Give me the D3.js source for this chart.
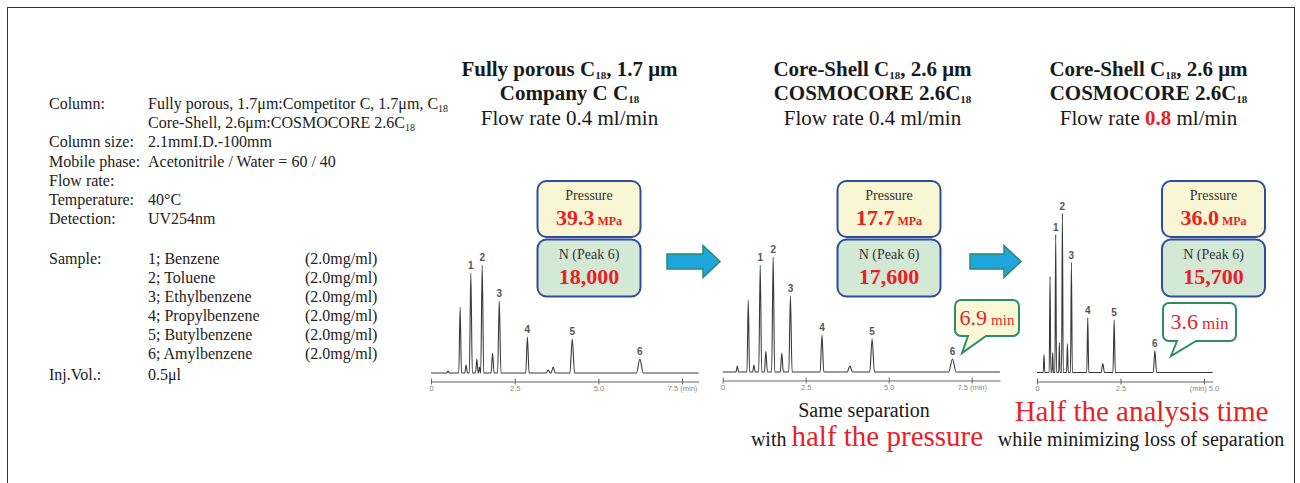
<!DOCTYPE html>
<html><head><meta charset="utf-8">
<script src="https://cdn.jsdelivr.net/npm/d3@7"></script>
<style>
html,body{margin:0;padding:0;background:#fff;}
svg{display:block;font-family:"Liberation Serif","Times New Roman",serif;}
</style></head>
<body><svg id="c" width="1300" height="483" font-family="Liberation Serif, Times New Roman, serif"></svg>
<script>
// ---------------- DATA ----------------
const condLabels = ["Column:", "", "Column size:", "Mobile phase:", "Flow rate:", "Temperature:", "Detection:"];
const condValues = ["Fully porous, 1.7μm:Competitor C, 1.7μm, C{18}", "Core-Shell, 2.6μm:COSMOCORE 2.6C{18}",
  "2.1mmI.D.-100mm", "Acetonitrile / Water = 60 / 40", "", "40°C", "UV254nm"];
const sampleNames = ["1; Benzene", "2; Toluene", "3; Ethylbenzene", "4; Propylbenzene", "5; Butylbenzene", "6; Amylbenzene"];
const sampleConc = ["(2.0mg/ml)", "(2.0mg/ml)", "(2.0mg/ml)", "(2.0mg/ml)", "(2.0mg/ml)", "(2.0mg/ml)"];
const injLabel = "Inj.Vol.:", injValue = "0.5μl";

const titleLine1 = ["Fully porous C{18}, 1.7 μm", "Core-Shell C{18}, 2.6 μm", "Core-Shell C{18}, 2.6 μm"];
const titleLine2 = ["Company C C{18}", "COSMOCORE 2.6C{18}", "COSMOCORE 2.6C{18}"];
const flowRates = ["0.4", "0.4", "0.8"];
const flowHighlight = [false, false, true];
const pressures = ["39.3", "17.7", "36.0"];
const plates = ["18,000", "17,600", "15,700"];
const callouts = [null, "6.9", "3.6"];

// chromatograms: peaks as [retention time (min), relative height, half width (min), peak number]
const peaksA = [[0.51,2,0.04,0],[0.87,66,0.04,0],[1.05,8,0.04,0],[1.19,100,0.045,1],[1.37,14,0.04,0],[1.45,6,0.03,0],
  [1.53,108,0.045,2],[1.84,20,0.045,0],[2.04,72,0.05,3],[2.88,36,0.05,4],[3.50,3,0.06,0],[3.65,6,0.06,0],
  [4.22,34,0.07,5],[6.24,14,0.1,6]];
const peaksB = [[0.44,6,0.04,0],[0.77,72,0.04,0],[0.94,7,0.04,0],[1.13,107,0.045,1],[1.30,21,0.045,0],
  [1.52,115,0.045,2],[1.78,19,0.045,0],[2.04,76,0.05,3],[2.99,37,0.055,4],[3.83,6,0.08,0],
  [4.50,33,0.07,5],[6.92,13,0.11,6]];
const peaksC = [[0.21,18,0.025,0],[0.39,96,0.025,0],[0.47,20,0.02,0],[0.56,138,0.025,1],[0.67,30,0.02,0],
  [0.76,159,0.025,2],[0.91,29,0.025,0],[1.03,110,0.028,3],[1.52,55,0.03,4],[1.97,9,0.05,0],
  [2.31,53,0.035,5],[3.53,22,0.05,6]];
const peakSets = [peaksA, peaksB, peaksC];
const runEnd = [8.0, 8.35, 5.26];
const tickVals = [[0, 2.5, 5.0, 7.5], [0, 2.5, 5.0, 7.5], [0, 2.5, 5.0]];
const tickText = [["0", "2.5", "5.0", "7.5 (min)"], ["0", "2.5", "5.0", "7.5 (min)"], ["0", "2.5", "(min) 5.0"]];

// ---------------- LAYOUT ----------------
const RED = "#e81f27";
const svg = d3.select("#c");
svg.append("rect").attr("x", 7.5).attr("y", 7.5).attr("width", 1287).attr("height", 490)
  .attr("fill", "none").attr("stroke", "#333").attr("stroke-width", 1);

function rich(text, str, subSize, shift) {
  const parts = str.split(/(\{[^}]*\}|\[[^\]]*\])/).filter(s => s.length);
  let down = false;
  parts.forEach(p => {
    let t;
    if (p[0] === "{") {
      text.append("tspan").attr("font-size", subSize).attr("dy", shift).text(p.slice(1, -1));
      down = true; return;
    }
    if (p[0] === "[") {
      t = text.append("tspan").attr("fill", RED).attr("font-weight", "bold").text(p.slice(1, -1));
    } else t = text.append("tspan").text(p);
    if (down) { t.attr("dy", -shift); down = false; }
  });
}

// left conditions block
const left = svg.append("g").attr("font-size", 16).attr("fill", "#222");
const rowY = d3.scaleLinear().domain([0, 1]).range([109, 128.2]);
condLabels.forEach((l, i) => {
  left.append("text").attr("x", 49).attr("y", rowY(i)).text(l);
  rich(left.append("text").attr("x", 148).attr("y", rowY(i)), condValues[i], 10, 3);
});
const sY = d3.scaleLinear().domain([0, 1]).range([264, 283]);
sampleNames.forEach((s, i) => {
  if (i === 0) left.append("text").attr("x", 49).attr("y", sY(i)).text("Sample:");
  left.append("text").attr("x", 148).attr("y", sY(i)).text(s);
  left.append("text").attr("x", 305).attr("y", sY(i)).text(sampleConc[i]);
});
left.append("text").attr("x", 49).attr("y", 380).text(injLabel);
left.append("text").attr("x", 148).attr("y", 380).text(injValue);

// panels
const titleCx = [569.5, 872.5, 1148.5];
const boxX = [537.5, 837.5, 1162];
const boxW = 103;
const axisX0 = [431, 722.7, 1037];
const pxPerMin = [33.47, 33.2, 33.4];
const baseY = [373, 372, 372.5];
const axisY = [381.5, 380.5, 381.5];

for (let p = 0; p < 3; p++) {
  const g = svg.append("g").attr("text-anchor", "middle").attr("fill", "#1a1a1a");
  rich(g.append("text").attr("x", titleCx[p]).attr("y", 76).attr("font-size", 21).attr("font-weight", "bold"), titleLine1[p], 11, 3);
  rich(g.append("text").attr("x", titleCx[p]).attr("y", 100).attr("font-size", 21).attr("font-weight", "bold"), titleLine2[p], 11, 3);
  rich(g.append("text").attr("x", titleCx[p]).attr("y", 125).attr("font-size", 21),
    "Flow rate " + (flowHighlight[p] ? "[" + flowRates[p] + "]" : flowRates[p]) + " ml/min", 11, 3);

  // chromatogram
  const x = d3.scaleLinear().domain([0, runEnd[p]]).range([axisX0[p], axisX0[p] + runEnd[p] * pxPerMin[p]]);
  const y = d3.scaleLinear().domain([0, 160]).range([baseY[p], baseY[p] - 160]);
  const pts = [[0, 0]];
  peakSets[p].forEach(([t, h, w]) => { pts.push([t - w, 0], [t, h], [t + w, 0]); });
  pts.push([runEnd[p], 0]);
  pts.sort((a, b) => a[0] - b[0]);
  const line = d3.line().x(d => x(d[0])).y(d => y(d[1])).curve(d3.curveMonotoneX);
  svg.append("path").attr("d", line(pts)).attr("fill", "none").attr("stroke", "#3a3a3a").attr("stroke-width", 1.1);
  peakSets[p].filter(d => d[3] > 0).forEach(([t, h, w, n]) => {
    svg.append("text").attr("x", x(t)).attr("y", y(h) - 4).attr("text-anchor", "middle")
      .attr("font-family", "Liberation Sans, Arial, sans-serif").attr("font-weight", "bold")
      .attr("font-size", 10).attr("fill", "#555").text(n);
  });
  const ax = d3.axisBottom(x).tickValues(tickVals[p]).tickSize(3).tickSizeOuter(0)
    .tickFormat((d, i) => tickText[p][i]);
  const ag = svg.append("g").attr("transform", `translate(0,${axisY[p]})`).call(ax);
  ag.select(".domain").attr("stroke", "#666");
  ag.selectAll(".tick line").attr("stroke", "#666").attr("y1", -3);
  ag.selectAll(".tick text").attr("fill", "#888").attr("font-size", 7.5).attr("dy", "0.5em")
    .attr("font-family", "Liberation Sans, Arial, sans-serif");

  // boxes
  const bx = boxX[p];
  svg.append("rect").attr("x", bx).attr("y", 181).attr("width", boxW).attr("height", 56).attr("rx", 9)
    .attr("fill", "#f9f7d3").attr("stroke", "#2e4d9c").attr("stroke-width", 2);
  svg.append("rect").attr("x", bx).attr("y", 239.5).attr("width", boxW).attr("height", 57).attr("rx", 9)
    .attr("fill", "#d3e8d5").attr("stroke", "#2e4d9c").attr("stroke-width", 2);
  const cx = bx + boxW / 2;
  svg.append("text").attr("x", cx).attr("y", 200).attr("text-anchor", "middle").attr("font-size", 14).attr("fill", "#333").text("Pressure");
  const pt = svg.append("text").attr("x", cx).attr("y", 225).attr("text-anchor", "middle").attr("fill", RED).attr("font-weight", "bold");
  pt.append("tspan").attr("font-size", 22).text(pressures[p]);
  pt.append("tspan").attr("font-size", 12).attr("dx", 3).text("MPa");
  svg.append("text").attr("x", cx).attr("y", 259).attr("text-anchor", "middle").attr("font-size", 14).attr("fill", "#333").text("N (Peak 6)");
  svg.append("text").attr("x", cx).attr("y", 284).attr("text-anchor", "middle").attr("font-size", 22).attr("fill", RED).attr("font-weight", "bold").text(plates[p]);
}

// arrows
const arrows = [[667, 703, 720], [970, 1004, 1021]];
arrows.forEach(([a0, ah, a1]) => {
  const cy = 261.5;
  const path = d3.path();
  path.moveTo(a0, cy - 7.5); path.lineTo(ah, cy - 7.5); path.lineTo(ah, cy - 16); path.lineTo(a1, cy);
  path.lineTo(ah, cy + 16); path.lineTo(ah, cy + 7.5); path.lineTo(a0, cy + 7.5); path.closePath();
  svg.append("path").attr("d", path.toString()).attr("fill", "#1ea6dc").attr("stroke", "#2b8a6c").attr("stroke-width", 1.5);
});

// callouts
const bubbles = [null, {x: 955, y: 300, w: 64, h: 36, tail: [968, 986, 962, 353], fill: "#fbf9d8", minSize: 15},
                       {x: 1163, y: 303, w: 73, h: 38, tail: [1177, 1196, 1171, 356], fill: "#ffffff", minSize: 17}];
bubbles.forEach((b, p) => {
  if (!b) return;
  const r = 6, path = d3.path();
  const {x, y, w, h} = b;
  path.moveTo(x + r, y); path.lineTo(x + w - r, y); path.arcTo(x + w, y, x + w, y + r, r);
  path.lineTo(x + w, y + h - r); path.arcTo(x + w, y + h, x + w - r, y + h, r);
  path.lineTo(b.tail[1], y + h); path.lineTo(b.tail[2], b.tail[3]); path.lineTo(b.tail[0], y + h);
  path.lineTo(x + r, y + h); path.arcTo(x, y + h, x, y + h - r, r);
  path.lineTo(x, y + r); path.arcTo(x, y, x + r, y, r); path.closePath();
  svg.append("path").attr("d", path.toString()).attr("fill", b.fill).attr("stroke", "#2e8c6a").attr("stroke-width", 2);
  const t = svg.append("text").attr("x", x + w / 2).attr("y", y + h / 2 + 7).attr("text-anchor", "middle").attr("fill", RED);
  t.append("tspan").attr("font-size", 22).text(callouts[p]);
  t.append("tspan").attr("font-size", b.minSize).attr("dx", 4).text("min");
});

// bottom messages
const bt = svg.append("g").attr("text-anchor", "middle").attr("fill", "#1a1a1a");
bt.append("text").attr("x", 864).attr("y", 417).attr("font-size", 20).text("Same separation");
const w2 = bt.append("text").attr("x", 867).attr("y", 446).attr("font-size", 20);
w2.append("tspan").text("with ");
w2.append("tspan").attr("fill", RED).attr("font-size", 29).text("half the pressure");
bt.append("text").attr("x", 1141.5).attr("y", 421).attr("font-size", 29).attr("fill", RED).text("Half the analysis time");
bt.append("text").attr("x", 1141).attr("y", 446).attr("font-size", 20).text("while minimizing loss of separation");
</script></body></html>
